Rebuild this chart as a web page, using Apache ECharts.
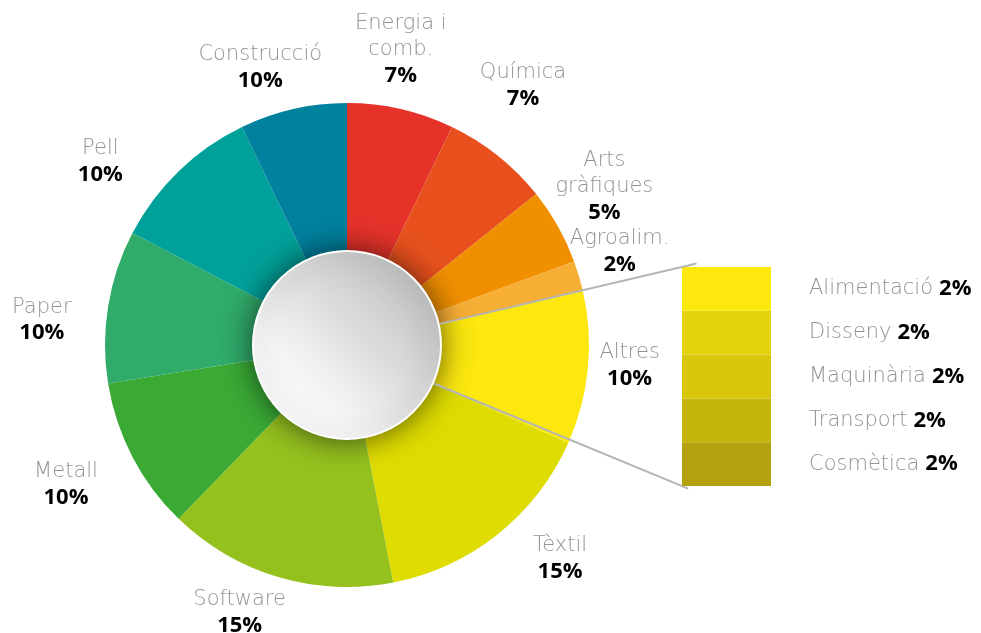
<!DOCTYPE html>
<html>
<head>
<meta charset="utf-8">
<script src="https://cdn.jsdelivr.net/npm/echarts@6/dist/echarts.min.js"></script>
<style>
  html, body { margin: 0; padding: 0; background: #fff; }
  #main { width: 981px; height: 633px; }
</style>
</head>
<body>
<div id="main"></div>
<script>
// sectors, clockwise from the top
var sectors = ['Energia i\ncomb.', 'Química', 'Arts\ngràfiques', 'Agroalim.', 'Altres', 'Tèxtil', 'Software', 'Metall', 'Paper', 'Pell', 'Construcció']
var sectorValues = [7, 7, 5, 2, 10, 15, 15, 10, 10, 10, 7]
var sectorLabels = ['7%', '7%', '5%', '2%', '10%', '15%', '15%', '10%', '10%', '10%', '10%']
var sectorColors = ['#e5332a', '#e8511e', '#f08f00', '#f6ae35', '#fce80f', '#dedc00', '#95c11f', '#3aaa35', '#30ab6a', '#00a19a', '#00819e']

// breakdown of "Altres", top to bottom
var altres = ['Alimentació', 'Disseny', 'Maquinària', 'Transport', 'Cosmètica']
var altresValues = [2, 2, 2, 2, 2]
var altresLabels = ['2%', '2%', '2%', '2%', '2%']
var altresColors = ['#fce80f', '#e3d30f', '#d8c70d', '#c5b50d', '#b3a10d']

/*====== layout ======*/
var CX = 347, CY = 345, R0 = 94, R1 = 242, LR = 300
var GRID = { left: 682, top: 267, width: 89, height: 219 }
// small hand nudges so the labels sit where the designer put them
var labelNudge = [[-13, -3], [-11, -25], [-4, -11], [-15, -8], [-16, -8], [26, -21], [-22, -20], [-15, 1], [-9, 23], [-38, 32], [-20, 15]]

var total = sectorValues.reduce(function (a, b) { return a + b }, 0)
function startAngle(i) {
  var s = 0
  for (var k = 0; k < i; k++) s += sectorValues[k]
  return s / total * 360
}
function midAngle(i) {
  return startAngle(i) + sectorValues[i] / total * 180
}

var nameStyle = { color: '#939393', fontSize: 21, lineHeight: 26, fontWeight: 300, fontFamily: 'DejaVu Sans' }
var pctStyle = { color: '#000', fontSize: 22, lineHeight: 26, fontWeight: 'bold', fontFamily: 'Open Sans' }
var pctStyleR = Object.assign({}, pctStyle, { padding: [0, 0, 0, 6] })

var pieData = sectors.map(function (n, i) {
  return { name: n, value: sectorValues[i], itemStyle: { color: sectorColors[i] } }
})

// stacked bars start at the bottom
var barSeries = altres.slice().reverse().map(function (n, k) {
  var i = altres.length - 1 - k
  return {
    type: 'bar',
    name: n,
    stack: 'altres',
    barWidth: '100%',
    silent: true,
    data: [altresValues[i]],
    itemStyle: { color: altresColors[i] },
    label: {
      show: true,
      position: 'right',
      distance: 38,
      formatter: '{n|' + n + '}{p|' + altresLabels[i] + '}',
      rich: { n: nameStyle, p: pctStyleR }
    }
  }
})

var option = {
  animation: false,
  grid: GRID,
  xAxis: { type: 'category', data: ['Altres'], show: false },
  yAxis: { type: 'value', min: 0, max: 10, show: false },
  series: [
    {
      type: 'pie',
      center: [CX, CY],
      radius: [R0, R1],
      startAngle: 90,
      clockwise: true,
      avoidLabelOverlap: false,
      silent: true,
      data: pieData,
      labelLine: { show: false },
      label: {
        show: true,
        position: 'outside',
        formatter: function (p) {
          var lines = p.name.split('\n').map(function (t) { return '{n|' + t + '}' })
          return lines.join('\n') + '\n{p|' + sectorLabels[p.dataIndex] + '}'
        },
        rich: { n: nameStyle, p: pctStyle }
      },
      labelLayout: function (p) {
        var i = p.dataIndex
        var a = midAngle(i) * Math.PI / 180
        return {
          x: CX + LR * Math.sin(a) + labelNudge[i][0],
          y: CY - LR * Math.cos(a) + labelNudge[i][1],
          align: 'center',
          verticalAlign: 'middle'
        }
      }
    },
    {
      // grey disc in the middle
      type: 'pie',
      center: [CX, CY],
      radius: [0, R0],
      silent: true,
      z: 5,
      label: { show: false },
      labelLine: { show: false },
      data: [{
        value: 1,
        itemStyle: {
          color: new echarts.graphic.LinearGradient(1, 0, 0, 1, [
            { offset: 0, color: '#b2b2b2' },
            { offset: 0.7, color: '#f6f6f6' },
            { offset: 1, color: '#ffffff' }
          ]),
          borderColor: '#fff',
          borderWidth: 2,
          shadowBlur: 30,
          shadowColor: 'rgba(0,0,0,0.6)'
        }
      }]
    }
  ].concat(barSeries)
}

var dom = document.getElementById('main')
var chart = echarts.init(dom)
chart.setOption(option)

/*====== lines from the Altres slice to the bar ======*/
var i4 = sectors.indexOf('Altres')
var a1 = startAngle(i4) * Math.PI / 180
var a2 = startAngle(i4 + 1) * Math.PI / 180
var p1 = [CX + (R0 + 1) * Math.sin(a1), CY - (R0 + 1) * Math.cos(a1)]
var p2 = [CX + (R0 + 1) * Math.sin(a2), CY - (R0 + 1) * Math.cos(a2)]
var c1 = [GRID.left, GRID.top]
var c2 = [GRID.left, GRID.top + GRID.height]
function extend(p, c, f) {
  return [p[0] + (c[0] - p[0]) * f, p[1] + (c[1] - p[1]) * f]
}
var e1 = extend(p1, c1, 1.06)
var e2 = extend(p2, c2, 1.025)
chart.setOption({
  graphic: [
    { type: 'line', z: 10, shape: { x1: p1[0], y1: p1[1], x2: e1[0], y2: e1[1] }, style: { stroke: '#b4b4b4', lineWidth: 2 } },
    { type: 'line', z: 10, shape: { x1: p2[0], y1: p2[1], x2: e2[0], y2: e2[1] }, style: { stroke: '#b4b4b4', lineWidth: 2 } }
  ]
})
</script>
</body>
</html>
